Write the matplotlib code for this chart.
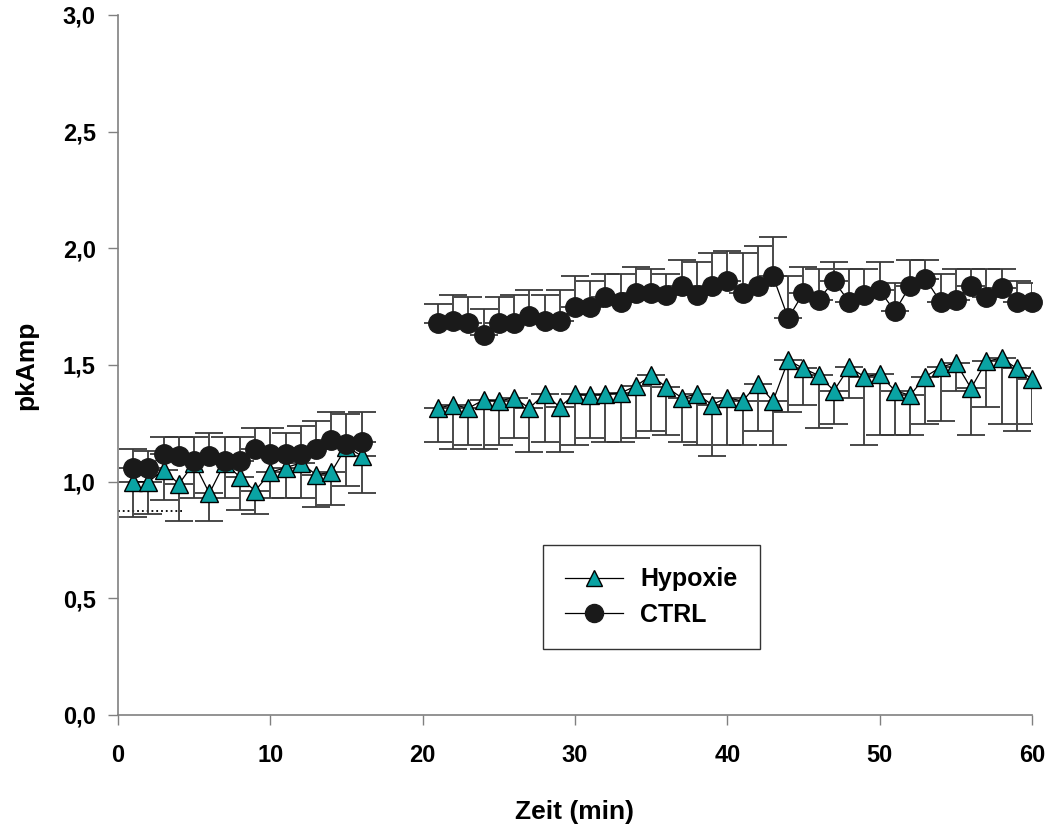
import matplotlib.pyplot as plt
import numpy as np

# minutes of the two recording blocks
time_a = list(range(1, 17))
time_b = list(range(21, 61))

# CTRL mean and SEM (error bar drawn upward)
ctrl_a = [1.06, 1.06, 1.12, 1.11, 1.09, 1.11, 1.09, 1.09, 1.14, 1.12, 1.12, 1.12, 1.14, 1.18, 1.16, 1.17]
ctrl_err_a = [0.08, 0.07, 0.07, 0.08, 0.10, 0.10, 0.10, 0.10, 0.09, 0.11, 0.09, 0.12, 0.12, 0.12, 0.13, 0.13]
ctrl_b = [1.68, 1.69, 1.68, 1.63, 1.68, 1.68, 1.71, 1.69, 1.69, 1.75,
          1.75, 1.79, 1.77, 1.81, 1.81, 1.80, 1.84, 1.80, 1.84, 1.86,
          1.81, 1.84, 1.88, 1.70, 1.81, 1.78, 1.86, 1.77, 1.80, 1.82,
          1.73, 1.84, 1.87, 1.77, 1.78, 1.84, 1.79, 1.83, 1.77, 1.77]
ctrl_err_b = [0.08, 0.11, 0.11, 0.11, 0.11, 0.12, 0.11, 0.11, 0.13, 0.13,
              0.11, 0.10, 0.12, 0.11, 0.10, 0.09, 0.11, 0.14, 0.14, 0.13,
              0.17, 0.17, 0.17, 0.18, 0.11, 0.13, 0.08, 0.14, 0.11, 0.12,
              0.12, 0.11, 0.08, 0.12, 0.13, 0.07, 0.12, 0.08, 0.09, 0.08]

# Hypoxie mean and SEM (error bar drawn downward)
hyp_a = [1.00, 1.00, 1.05, 0.99, 1.08, 0.95, 1.08, 1.02, 0.96, 1.04, 1.06, 1.08, 1.03, 1.04, 1.15, 1.11]
hyp_err_a = [0.15, 0.14, 0.13, 0.16, 0.15, 0.12, 0.15, 0.14, 0.10, 0.11, 0.13, 0.15, 0.14, 0.14, 0.17, 0.16]
hyp_b = [1.315, 1.33, 1.315, 1.35, 1.345, 1.36, 1.315, 1.375, 1.32, 1.375,
         1.37, 1.375, 1.38, 1.41, 1.455, 1.405, 1.36, 1.375, 1.33, 1.36,
         1.345, 1.42, 1.345, 1.52, 1.485, 1.455, 1.39, 1.49, 1.45, 1.46,
         1.39, 1.37, 1.45, 1.49, 1.51, 1.40, 1.515, 1.53, 1.485, 1.44]
hyp_err_b = [0.145, 0.19, 0.16, 0.21, 0.19, 0.175, 0.19, 0.205, 0.195, 0.22,
             0.185, 0.205, 0.21, 0.225, 0.24, 0.205, 0.19, 0.22, 0.22, 0.205,
             0.19, 0.205, 0.19, 0.22, 0.155, 0.225, 0.145, 0.13, 0.295, 0.26,
             0.19, 0.17, 0.205, 0.23, 0.12, 0.20, 0.195, 0.285, 0.27, 0.195]

# short dotted reference line
base_x = [0, 4.3]
base_y = [0.875, 0.875]

x_ticks = [0, 10, 20, 30, 40, 50, 60]
y_ticks = [0.0, 0.5, 1.0, 1.5, 2.0, 2.5, 3.0]
y_labels = ["0,0", "0,5", "1,0", "1,5", "2,0", "2,5", "3,0"]

TEAL = "#0aa3a3"
BAR = "#3a3a3a"

plt.rcParams["font.family"] = ["Liberation Sans", "DejaVu Sans"]
plt.rcParams["font.weight"] = "bold"

fig = plt.figure(figsize=(10.48, 8.31), dpi=100)
ax = fig.add_axes([0.1126, 0.1396, 0.8721, 0.8424])

ax.plot(base_x, base_y, color="black", linestyle=":", linewidth=1.3, zorder=1)

for t, m, e in [(time_a, hyp_a, hyp_err_a), (time_b, hyp_b, hyp_err_b)]:
    ax.errorbar(t, m, yerr=[e, np.zeros(len(e))], fmt="none", ecolor=BAR,
                elinewidth=1.3, capsize=10, capthick=1.3, zorder=2)
    ax.plot(t, m, color="black", linewidth=0.9, marker="^", markersize=13,
            markerfacecolor=TEAL, markeredgecolor="black", markeredgewidth=1.0,
            zorder=3, clip_on=False)

for t, m, e in [(time_a, ctrl_a, ctrl_err_a), (time_b, ctrl_b, ctrl_err_b)]:
    ax.errorbar(t, m, yerr=[np.zeros(len(e)), e], fmt="none", ecolor=BAR,
                elinewidth=1.3, capsize=10, capthick=1.3, zorder=2)
    ax.plot(t, m, color="black", linewidth=0.9, marker="o", markersize=14,
            markerfacecolor="#1a1a1a", markeredgecolor="#1a1a1a", zorder=4,
            clip_on=False)

ax.set_xlim(0, 60)
ax.set_ylim(0, 3.0)
ax.set_xticks(x_ticks)
ax.set_xticklabels([str(v) for v in x_ticks], fontsize=17, fontweight="bold")
ax.set_yticks(y_ticks)
ax.set_yticklabels(y_labels, fontsize=17, fontweight="bold")
ax.tick_params(axis="both", direction="out", length=7, width=1, color="#808080")
ax.tick_params(axis="x", pad=14)
ax.tick_params(axis="y", pad=9)

for side in ["top", "right"]:
    ax.spines[side].set_visible(False)
for side in ["left", "bottom"]:
    ax.spines[side].set_color("#808080")
    ax.spines[side].set_linewidth(1.2)

ax.set_xlabel("Zeit (min)", fontsize=19, fontweight="bold", labelpad=24)
ax.set_ylabel("pkAmp", fontsize=19, fontweight="bold", labelpad=18)

h1, = ax.plot([], [], color="black", linewidth=0.9, marker="^", markersize=11,
              markerfacecolor=TEAL, markeredgecolor="black")
h2, = ax.plot([], [], color="black", linewidth=0.9, marker="o", markersize=13,
              markerfacecolor="#1a1a1a", markeredgecolor="#1a1a1a")
leg = ax.legend([h1, h2], ["Hypoxie", "CTRL"], loc="upper left",
                bbox_to_anchor=(0.465, 0.243), borderaxespad=0,
                fontsize=18, frameon=True, fancybox=False, handlelength=2.3,
                borderpad=0.9, labelspacing=0.45, handletextpad=0.7)
leg.get_frame().set_edgecolor("black")
leg.get_frame().set_linewidth(1.0)

fig.savefig("out.png", dpi=100)
